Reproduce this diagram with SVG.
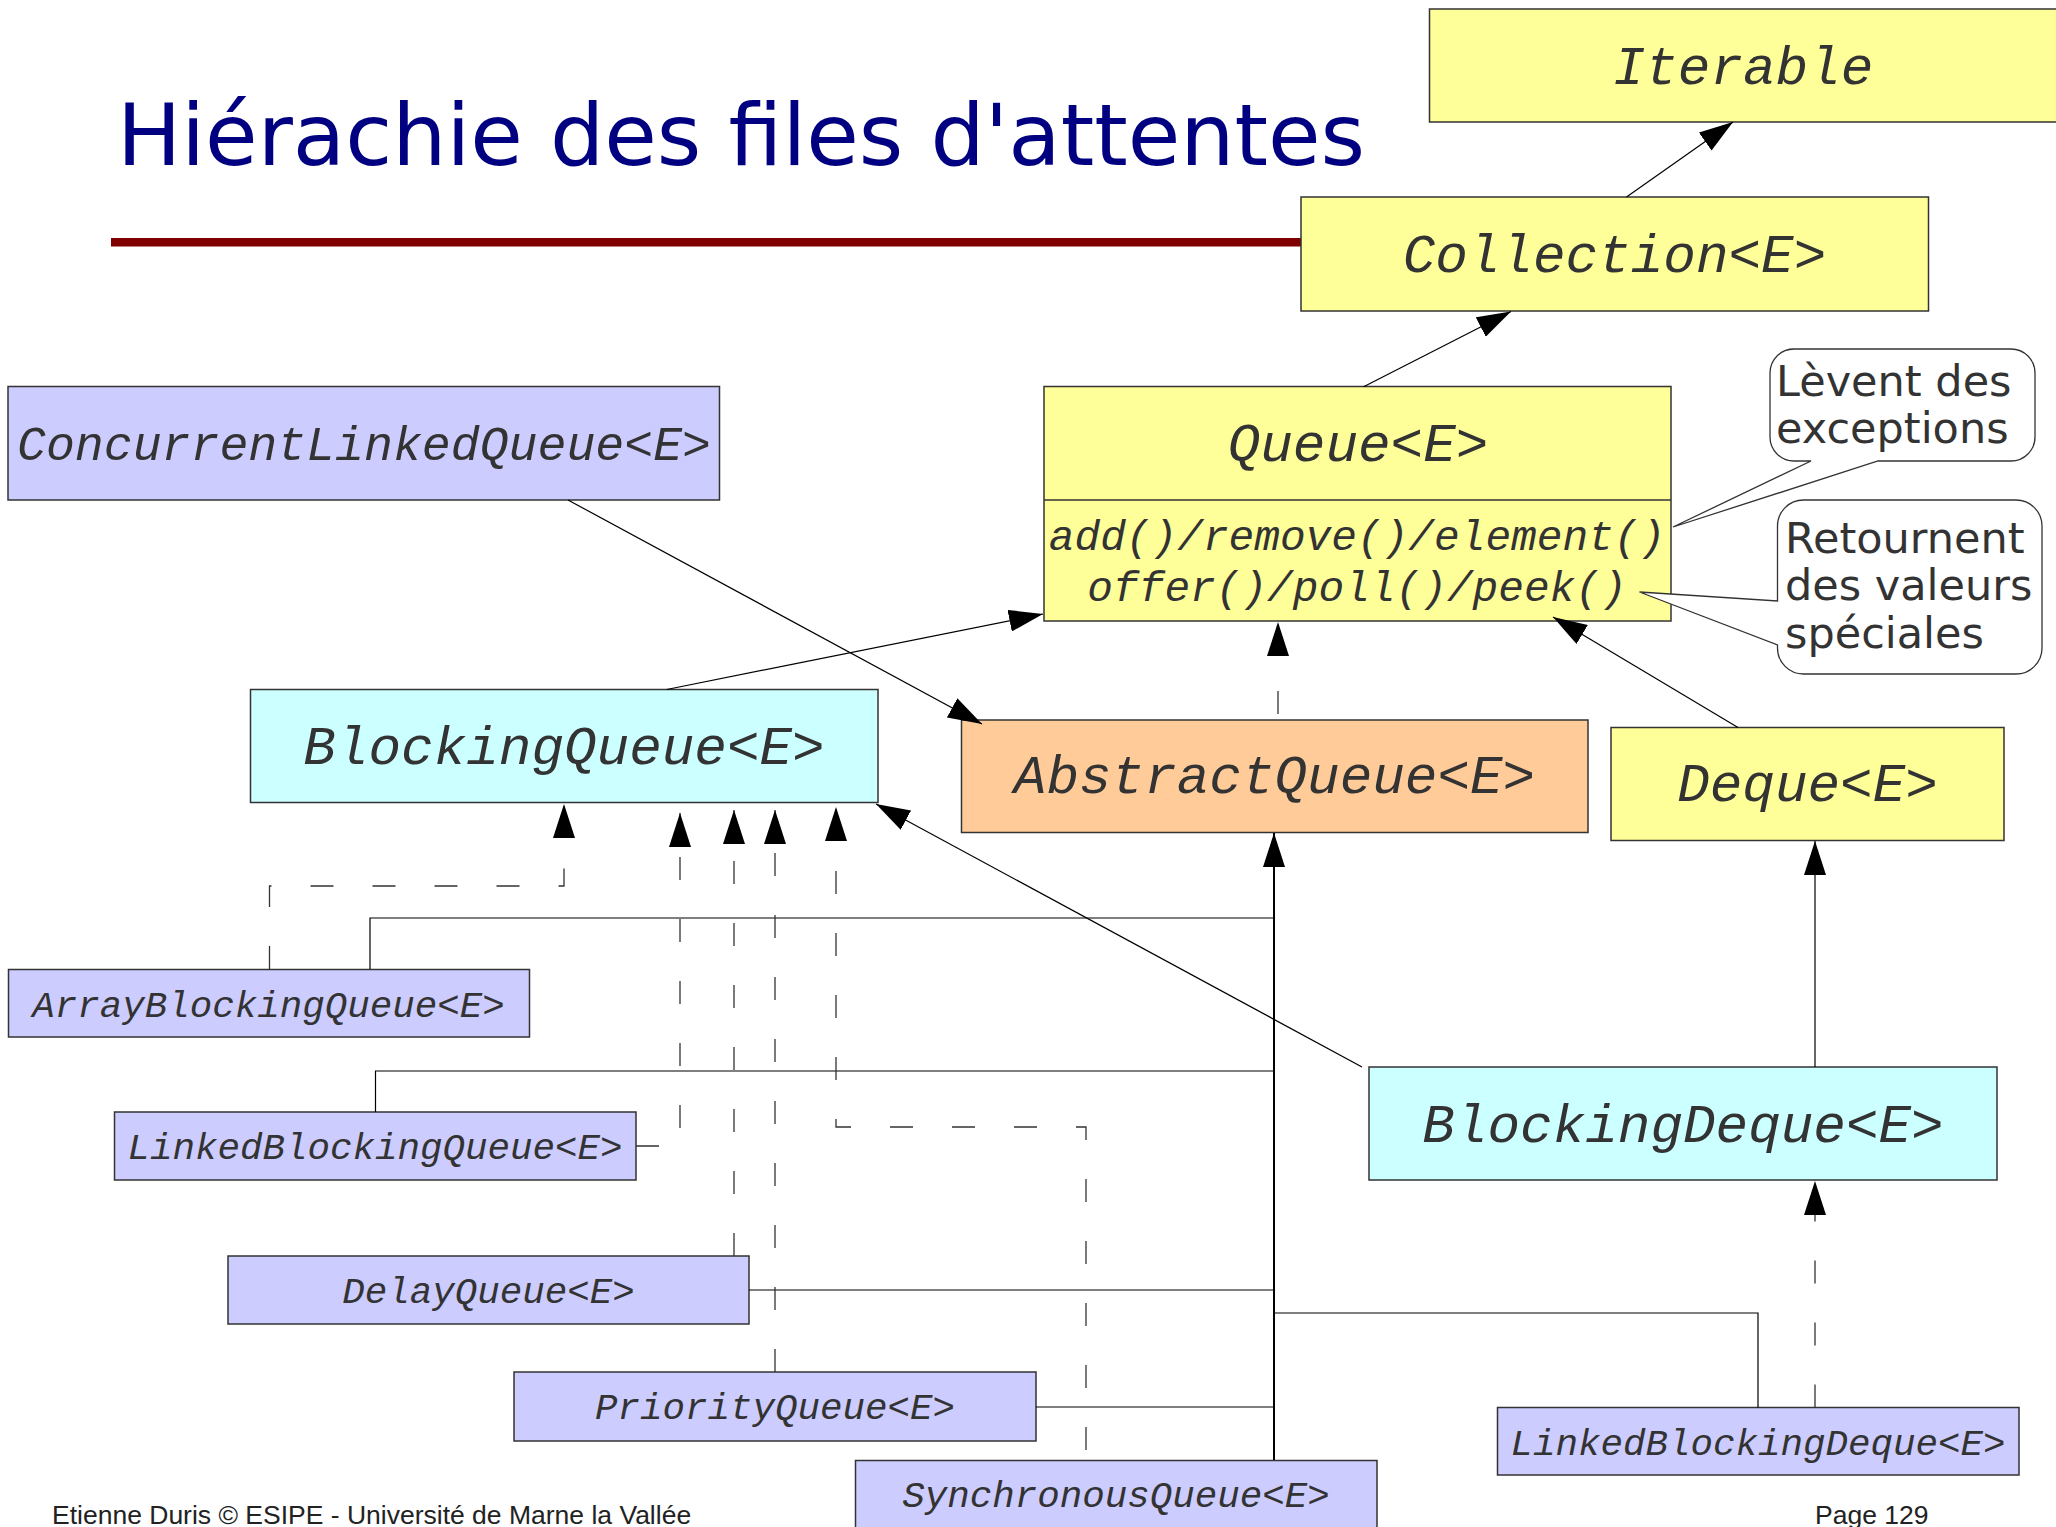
<svg xmlns="http://www.w3.org/2000/svg" width="2056" height="1527" viewBox="0 0 2056 1527">
<style>
.box{stroke:#333;stroke-width:1.5}
.y{fill:#ffff99}.b{fill:#ccccff}.c{fill:#ccffff}.o{fill:#ffcc99}
.big{font-family:"Liberation Mono","Courier New",monospace;font-style:italic;font-size:54.3px;fill:#333;text-anchor:middle}
.mid{font-family:"Liberation Mono","Courier New",monospace;font-style:italic;font-size:48.2px;fill:#333;text-anchor:middle}
.meth{font-family:"Liberation Mono","Courier New",monospace;font-style:italic;font-size:42.8px;fill:#333;text-anchor:middle}
.sm{font-family:"Liberation Mono","Courier New",monospace;font-style:italic;font-size:37.5px;fill:#333;text-anchor:middle}
.note{font-family:"DejaVu Sans",sans-serif;font-size:43px;fill:#333}
.bub{fill:#fff;stroke:#333;stroke-width:1.3}
.ln{fill:none;stroke:#000;stroke-width:1.2}
.tr{fill:none;stroke:#000;stroke-width:2}
.da{fill:none;stroke:#333;stroke-width:1.3;stroke-dasharray:23 39}
.foot{font-family:"Liberation Sans",Arial,sans-serif;font-size:26.5px;fill:#222}
</style>
<defs>
<marker id="arr" markerUnits="userSpaceOnUse" markerWidth="34" markerHeight="22" refX="34" refY="11" orient="auto" viewBox="0 0 34 22"><path d="M0,0 L34,11 L0,22 z" fill="#000"/></marker>
</defs>
<rect width="2056" height="1527" fill="#fff"/>
<text x="117" y="165" font-family="DejaVu Sans, sans-serif" font-size="85.5" fill="#000080">Hiérachie des files d'attentes</text>
<rect x="111" y="238" width="1190" height="8.5" fill="#800000"/>

<g id="nodes">
<g id="iterable"><rect class="box y" x="1429.5" y="9" width="630" height="113"/><text class="big" x="1743" y="84">Iterable</text></g>
<g id="collection"><rect class="box y" x="1301" y="197" width="627.5" height="114"/><text class="big" x="1614.5" y="272">Collection&lt;E&gt;</text></g>
<g id="queue"><rect class="box y" x="1044" y="386.5" width="627" height="234.5"/><line x1="1044" y1="500" x2="1671" y2="500" stroke="#333" stroke-width="1.5"/><text class="big" x="1358" y="461">Queue&lt;E&gt;</text><text class="meth" x="1357" y="550">add()/remove()/element()</text><text class="meth" x="1357" y="601">offer()/poll()/peek()</text></g>
<g id="clq"><rect class="box b" x="8" y="386.5" width="711.5" height="113.5"/><text class="mid" x="364" y="460">ConcurrentLinkedQueue&lt;E&gt;</text></g>
<g id="blockingqueue"><rect class="box c" x="250.5" y="689.5" width="627.5" height="113"/><text class="big" x="564" y="764">BlockingQueue&lt;E&gt;</text></g>
<g id="abstractqueue"><rect class="box o" x="961.5" y="720" width="626.5" height="112.5"/><text class="big" x="1274.5" y="793">AbstractQueue&lt;E&gt;</text></g>
<g id="deque"><rect class="box y" x="1611" y="727.5" width="393" height="113"/><text class="big" x="1807.5" y="801">Deque&lt;E&gt;</text></g>
<g id="blockingdeque"><rect class="box c" x="1369" y="1067" width="628" height="113"/><text class="big" x="1683" y="1142">BlockingDeque&lt;E&gt;</text></g>
<g id="abq"><rect class="box b" x="8.5" y="969.5" width="521" height="67.5"/><text class="sm" x="268.5" y="1017">ArrayBlockingQueue&lt;E&gt;</text></g>
<g id="lbq"><rect class="box b" x="114.5" y="1112" width="521.5" height="68"/><text class="sm" x="375" y="1159">LinkedBlockingQueue&lt;E&gt;</text></g>
<g id="delayqueue"><rect class="box b" x="228" y="1256" width="521" height="68"/><text class="sm" x="488.5" y="1303">DelayQueue&lt;E&gt;</text></g>
<g id="priorityqueue"><rect class="box b" x="514" y="1372" width="522" height="69"/><text class="sm" x="775" y="1419">PriorityQueue&lt;E&gt;</text></g>
<g id="synchronousqueue"><rect class="box b" x="855.5" y="1460.5" width="521.5" height="80"/><text class="sm" x="1116" y="1507">SynchronousQueue&lt;E&gt;</text></g>
<g id="lbd"><rect class="box b" x="1497.5" y="1407.5" width="521.5" height="67.5"/><text class="sm" x="1758" y="1455">LinkedBlockingDeque&lt;E&gt;</text></g>
<g id="note1"><path class="bub" d="M1794,349 H2011 A24,24 0 0 1 2035,373 V437 A24,24 0 0 1 2011,461 H1878 L1673,527 L1811,461 H1794 A24,24 0 0 1 1770,437 V373 A24,24 0 0 1 1794,349 Z"/><text class="note" x="1776" y="396">Lèvent des</text><text class="note" x="1776" y="443">exceptions</text></g>
<g id="note2"><path class="bub" d="M1803.5,500 H2016 A26,26 0 0 1 2042,526 V648 A26,26 0 0 1 2016,674 H1803.5 A26,26 0 0 1 1777.5,648 V645 L1639.5,592 L1777.5,601 V526 A26,26 0 0 1 1803.5,500 Z"/><text class="note" x="1785" y="553">Retournent</text><text class="note" x="1785" y="600">des valeurs</text><text class="note" x="1785" y="648">spéciales</text></g>
</g>

<g id="connectors">
<path class="ln" d="M1626.5,197 L1733,122" marker-end="url(#arr)"/>
<path class="ln" d="M1363.6,386.8 L1511,311.5" marker-end="url(#arr)"/>
<path class="ln" d="M666.7,689.5 L1043,614" marker-end="url(#arr)"/>
<path class="ln" d="M568,500 L982,724" marker-end="url(#arr)"/>
<path class="ln" d="M1738,727.5 L1553,617" marker-end="url(#arr)"/>
<path class="ln" d="M1362,1067 L876,804" marker-end="url(#arr)"/>
<path class="ln" d="M1815,1067 V841" marker-end="url(#arr)"/>
<path class="tr" d="M1274,1460 V833" marker-end="url(#arr)"/>
<path class="ln" d="M370,969 V918 H1274"/>
<path class="ln" d="M375.5,1112 V1071 H1274"/>
<path class="ln" d="M749,1290 H1274"/>
<path class="ln" d="M1036,1407 H1274"/>
<path class="ln" d="M1758,1407.5 V1313 H1274"/>
<path class="da" d="M269.5,969 V886 H564 V804" marker-end="url(#arr)"/>
<path class="da" d="M636,1146 H680 V813" marker-end="url(#arr)"/>
<path class="da" d="M734,1256 V810" marker-end="url(#arr)"/>
<path class="da" d="M775,1372 V810" marker-end="url(#arr)"/>
<path class="da" d="M1086,1460 V1127 H836 V807" stroke-dashoffset="52" marker-end="url(#arr)"/>
<path class="da" d="M1278,720 V622" stroke-dashoffset="56" marker-end="url(#arr)"/>
<path class="da" d="M1815,1407.5 V1181" marker-end="url(#arr)"/>
</g>

<text class="foot" x="52" y="1524">Etienne Duris © ESIPE - Université de Marne la Vallée</text>
<text class="foot" x="1815" y="1524">Page 129</text>
</svg>
